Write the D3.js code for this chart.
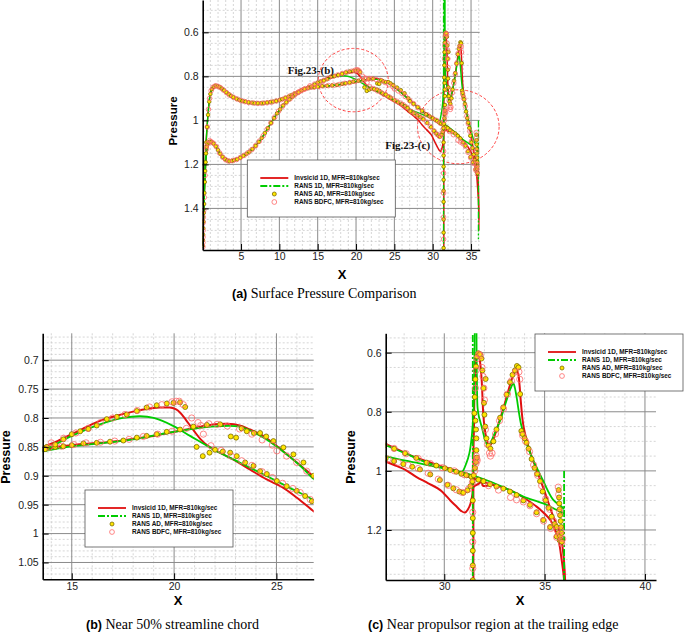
<!DOCTYPE html>
<html><head><meta charset="utf-8">
<script src="https://cdn.jsdelivr.net/npm/d3@7"></script>
<style>
body{margin:0;background:#fff}
svg{display:block}
text{font-family:Arial,"Liberation Sans",Helvetica,sans-serif}
</style>
</head><body>
<svg id="chart" width="685" height="633"></svg>
<script>
// ---------------- DATA ----------------
const seriesNames = ["Invsicid 1D, MFR=810kg/sec","RANS 1D, MFR=810kg/sec","RANS AD, MFR=810kg/sec","RANS BDFC, MFR=810kg/sec"];

const xTicksA=[5,10,15,20,25,30,35], yTicksA=[0.6,0.8,1.0,1.2,1.4];
const xTicksB=[15,20,25], yTicksB=[0.7,0.75,0.8,0.85,0.9,0.95,1.0,1.05];
const xTicksC=[30,35,40], yTicksC=[0.6,0.8,1.0,1.2];

// Invsicid 1D (red)
const inviscidUpper=[[0.02,1.57],[0.1,1.45],[0.2,1.33],[0.3,1.22],[0.4,1.13],[0.55,1.04],[0.7,0.97],[0.9,0.9],[1.1,0.866],[1.4,0.849],[1.8,0.843],[2.2,0.848],[2.6,0.858],[3.0,0.87],[3.5,0.884],[4.0,0.896],[4.5,0.904],[5.5,0.915],[6.5,0.921],[7.5,0.922],[8.5,0.919],[9.5,0.913],[10.5,0.902],[11.5,0.887],[12.5,0.87],[13.58,0.855],[15,0.847],[16.4,0.843],[17.3,0.84],[18,0.836],[19,0.831],[20,0.824],[21.3,0.815],[22,0.811],[22.6,0.81],[23.2,0.813],[23.7,0.82],[24.2,0.828],[24.7,0.84],[25.2,0.854],[26,0.877],[26.8,0.901],[27.5,0.922],[28.2,0.944],[29.0,0.965],[29.8,0.983],[30.5,0.998],[31.0,1.015],[31.4,1.025],[32.3,1.045],[33,1.058],[33.6,1.076],[34.1,1.097],[34.6,1.121],[35.0,1.145],[35.3,1.168],[35.55,1.205],[35.7,1.236],[35.85,1.302],[35.97,1.37],[36.02,1.45]];
const inviscidLower=[[0.02,1.57],[0.1,1.46],[0.2,1.35],[0.3,1.26],[0.45,1.17],[0.6,1.125],[0.8,1.103],[1.0,1.097],[1.3,1.1],[1.7,1.118],[2.25,1.15],[2.8,1.172],[3.35,1.184],[4.2,1.18],[5.0,1.168],[6.0,1.145],[7.0,1.112],[7.8,1.075],[8.5,1.035],[9.2,0.995],[9.9,0.958],[10.6,0.928],[11.5,0.9],[12.3,0.878],[13.0,0.862],[13.58,0.851],[14.3,0.84],[15,0.828],[15.7,0.816],[16.38,0.805],[17.2,0.796],[18,0.789],[18.7,0.784],[19.3,0.782],[19.8,0.782],[20.1,0.785],[20.3,0.791],[20.55,0.802],[20.8,0.814],[21.05,0.826],[21.3,0.837],[21.6,0.847],[21.9,0.854],[22.4,0.863],[22.9,0.872],[23.7,0.889],[24.5,0.906],[25.3,0.92],[26.0,0.938],[26.8,0.961],[27.5,0.98],[28.1,0.998],[28.6,1.02],[29.2,1.042],[29.8,1.065],[30.3,1.1],[30.6,1.12],[30.85,1.136],[31.03,1.141],[31.18,1.13],[31.3,1.112],[31.4,1.08],[31.45,1.055],[31.7,1.044],[31.86,1.037],[31.92,1.05],[32.3,1.048]];
const inviscidDuct=[[31.45,1.62],[31.45,1.2],[31.45,0.95],[31.48,0.85],[31.5,0.75],[31.55,0.66],[31.6,0.62],[31.7,0.602],[31.78,0.63],[31.86,0.69],[31.94,0.805],[32.0,0.85],[32.08,0.884],[32.2,0.912],[32.3,0.912],[32.45,0.893],[32.6,0.862],[32.94,0.79],[33.27,0.71],[33.45,0.675],[33.6,0.66],[33.68,0.67],[33.75,0.71],[33.82,0.77],[33.95,0.85],[34.25,0.93],[34.6,0.997],[35.0,1.07],[35.43,1.155],[35.77,1.211],[35.93,1.279],[36.02,1.37],[36.05,1.5]];

// RANS 1D (green)
const rans1dUpper=[[0.02,1.57],[0.1,1.45],[0.2,1.33],[0.3,1.22],[0.4,1.13],[0.55,1.04],[0.7,0.97],[0.9,0.9],[1.1,0.866],[1.4,0.849],[1.8,0.843],[2.2,0.848],[2.6,0.858],[3.0,0.87],[3.5,0.884],[4.0,0.896],[4.5,0.904],[5.5,0.915],[6.5,0.921],[7.5,0.922],[8.5,0.919],[9.5,0.913],[10.5,0.902],[11.5,0.887],[12.5,0.871],[13.58,0.858],[15,0.849],[16.38,0.844],[18,0.837],[19.64,0.826],[21.27,0.817],[22.25,0.814],[23.2,0.815],[23.9,0.825],[24.5,0.837],[25.5,0.863],[26.2,0.884],[26.8,0.905],[27.08,0.913],[28.04,0.94],[29.12,0.972],[30.03,0.991],[30.6,1.003],[30.85,1.006],[31.1,0.974],[31.25,0.94],[31.35,0.895],[31.45,0.805],[31.5,0.635],[31.53,0.45]];
const rans1dLower=[[0.02,1.57],[0.1,1.46],[0.2,1.35],[0.3,1.26],[0.45,1.17],[0.6,1.125],[0.8,1.103],[1.0,1.097],[1.3,1.1],[1.7,1.118],[2.25,1.15],[2.8,1.172],[3.35,1.184],[4.2,1.18],[5.0,1.168],[6.0,1.145],[7.0,1.112],[7.8,1.075],[8.5,1.035],[9.2,0.995],[9.9,0.958],[10.6,0.928],[11.5,0.9],[12.3,0.879],[13.0,0.864],[13.58,0.857],[15,0.831],[16.38,0.811],[17.5,0.8],[18.34,0.797],[19.0,0.8],[19.97,0.814],[20.78,0.831],[21.9,0.854],[23.2,0.877],[24.5,0.9],[25.6,0.92],[26.8,0.942],[27.08,0.95],[28.7,0.974],[30.37,0.997],[31.4,1.015],[32.28,1.036],[33.1,1.06],[33.94,1.087],[34.93,1.11],[35.6,1.132],[35.85,1.14],[35.97,1.143]];
const rans1dDuct=[[31.6,0.45],[31.61,0.6],[31.63,0.72],[31.66,0.788],[31.72,0.815],[31.8,0.835],[31.9,0.86],[32.03,0.895],[32.2,0.918],[32.44,0.884],[32.78,0.83],[33.1,0.762],[33.3,0.722],[33.44,0.704],[33.52,0.72],[33.6,0.749],[33.85,0.85],[34.28,0.94],[34.9,1.03],[35.43,1.098],[35.85,1.121],[35.97,1.13]];
const rans1dDuctLE=[[31.42,1.62],[31.42,0.45]];
const rans1dDuctTE=[[35.97,1.0],[35.97,1.54]];

// RANS AD (yellow markers)
const ransAD=[[0.02,1.57],[0.03,1.545],[0.05,1.52],[0.07,1.49],[0.1,1.46],[0.14,1.42],[0.18,1.38],[0.22,1.33],[0.27,1.28],[0.32,1.23],[0.38,1.19],
[0.47,1.1],[0.58,1.03],[0.7,0.975],[0.85,0.915],[1.0,0.88],[1.2,0.858],[1.45,0.848],[1.7,0.843],[1.95,0.845],[2.2,0.849],[2.5,0.856],[2.8,0.864],[3.1,0.873],[3.4,0.881],[3.7,0.889],[4.0,0.895],[4.4,0.902],[4.8,0.907],[5.2,0.912],[5.6,0.915],[6.0,0.918],[6.4,0.92],[6.8,0.922],[7.2,0.922],[7.6,0.922],[8.0,0.921],[8.4,0.919],[8.8,0.917],[9.2,0.915],[9.6,0.912],[10.0,0.908],[10.4,0.903],[10.8,0.898],[11.2,0.892],[11.6,0.885],[12.0,0.878],[12.4,0.872],[12.8,0.865],[13.2,0.858],
[13.78,0.85],[14.19,0.85],[14.59,0.849],[15.0,0.847],[15.57,0.844],[16.22,0.843],[16.87,0.841],[17.52,0.839],[18.18,0.834],[18.66,0.831],[19.15,0.828],[19.64,0.824],[20.29,0.82],[20.94,0.815],[21.6,0.812],[22.25,0.811],[22.77,0.832],[23.03,0.834],[23.3,0.818],[23.55,0.823],[23.9,0.826],[24.2,0.826],[24.5,0.832],[24.85,0.84],[25.34,0.851],[25.83,0.863],[26.32,0.877],[26.81,0.9],
[27.04,0.913],[27.5,0.925],[28.04,0.94],[28.6,0.956],[29.12,0.972],[29.6,0.982],[30.03,0.991],[30.3,0.997],[30.6,1.003],[30.85,1.01],[31.1,1.015],[31.35,1.02],[31.7,1.03],
[31.95,1.035],[32.28,1.045],[32.6,1.053],[32.94,1.06],[33.27,1.07],[33.6,1.082],[33.94,1.1],[34.27,1.115],[34.6,1.14],[34.93,1.166],[35.27,1.19],[35.6,1.222],[35.75,1.235],
[0.42,1.15],[0.52,1.12],[0.65,1.105],[0.8,1.1],[0.95,1.097],[1.15,1.098],[1.4,1.105],[1.7,1.118],[2.0,1.135],[2.3,1.152],[2.6,1.166],[2.9,1.176],[3.2,1.182],[3.5,1.185],[3.8,1.184],[4.1,1.181],[4.5,1.177],[4.9,1.17],[5.3,1.161],[5.7,1.152],[6.1,1.142],[6.5,1.13],[6.9,1.116],[7.3,1.098],[7.7,1.08],[8.1,1.058],[8.5,1.035],[8.9,1.012],[9.3,0.99],[9.7,0.968],[10.1,0.95],[10.5,0.932],[10.9,0.918],[11.3,0.905],[11.7,0.893],[12.1,0.882],[12.5,0.873],[12.9,0.864],[13.3,0.857],
[13.7,0.854],[14.19,0.846],[14.59,0.837],[15.0,0.828],[15.41,0.823],[15.81,0.819],[16.22,0.813],[16.71,0.802],[17.2,0.798],[17.69,0.794],[18.18,0.788],[18.66,0.782],[19.15,0.778],[19.64,0.775],[19.97,0.774],[20.29,0.773],[20.54,0.781],[21.1,0.85],[21.4,0.866],[21.73,0.86],[22.0,0.855],[22.38,0.858],[22.74,0.86],[23.06,0.866],[23.47,0.877],[23.88,0.883],[24.2,0.892],[24.53,0.897],[25.02,0.909],[25.5,0.918],[25.99,0.926],[26.4,0.935],[26.73,0.944],
[27.08,0.958],[27.5,0.967],[27.96,0.977],[28.4,0.986],[28.79,0.995],[29.3,1.012],[29.78,1.031],[30.15,1.047],[30.45,1.059],[30.75,1.07],[30.95,1.074],[31.15,1.066],[31.3,1.052],[31.4,1.035],[31.47,1.015],[31.53,0.99],[31.58,0.97],[31.62,0.955],
[31.42,1.1],[31.42,1.16],[31.42,1.21],[31.42,1.27],[31.42,1.32],[31.42,1.37],[31.42,1.45],[31.42,1.51],[31.42,1.58],
[31.6,0.93],[31.6,0.89],[31.58,0.86],[31.55,0.83],[31.5,0.805],[31.52,0.75],[31.55,0.69],[31.58,0.647],[31.63,0.613],[31.7,0.602],[31.78,0.605],[31.85,0.62],[31.9,0.66],[31.95,0.72],[31.98,0.77],[32.0,0.81],[32.04,0.85],[32.1,0.89],[32.2,0.915],[32.3,0.925],[32.45,0.9],[32.6,0.86],[32.78,0.82],[32.94,0.785],[33.1,0.742],[33.27,0.7],[33.4,0.675],[33.52,0.66],[33.62,0.645],[33.7,0.65],[33.78,0.74],[33.84,0.865],[33.9,0.875],[34.0,0.89],[34.1,0.905],[34.2,0.925],[34.35,0.96],[34.5,0.99],[34.62,1.01],[34.77,1.035],[34.9,1.07],[35.05,1.1],[35.19,1.125],[35.35,1.155],[35.5,1.18],[35.6,1.19],[35.7,1.21],[35.77,1.22],[35.82,1.235],[35.86,1.24],
[35.7,1.065],[35.72,1.09],[35.73,1.11],[35.75,1.13],[35.77,1.15],[35.8,1.17],[35.82,1.19],[35.85,1.21],[32.06,0.689]];

// RANS BDFC (red open circles)
const ransBDFC=[[0.02,1.575],[0.03,1.555],[0.04,1.53],[0.05,1.5],[0.06,1.465],[0.08,1.44],[0.12,1.41],[0.2,1.35],[0.3,1.25],
[0.45,1.12],[0.6,1.03],[0.75,0.95],[0.9,0.9],[1.1,0.865],[1.35,0.849],[1.65,0.843],[1.95,0.845],[2.3,0.851],[2.7,0.862],[3.1,0.874],[3.5,0.885],[4.0,0.895],[4.5,0.903],[5.0,0.91],[5.5,0.915],[6.0,0.919],[6.6,0.921],[7.2,0.923],[7.8,0.922],[8.4,0.92],[9.0,0.917],[9.6,0.912],[10.2,0.906],[10.8,0.898],[11.4,0.889],[12.0,0.879],[12.6,0.869],[13.2,0.859],
[13.9,0.851],[14.5,0.849],[15.1,0.846],[15.7,0.843],[16.4,0.842],[17.1,0.84],[17.8,0.837],[18.5,0.832],[19.2,0.828],[19.9,0.823],[20.6,0.818],[21.3,0.813],[21.7,0.81],[22.1,0.811],[22.6,0.814],[23.2,0.819],[23.8,0.828],[24.3,0.838],[24.8,0.847],[25.02,0.857],[25.5,0.866],[25.99,0.877],[26.48,0.892],[27.0,0.91],
[27.5,0.924],[28.1,0.942],[28.7,0.958],[29.3,0.975],[29.9,0.989],[30.5,1.0],[31.0,1.013],
[32.2,1.05],[32.7,1.065],[33.3,1.09],[33.6,1.098],[33.94,1.105],[34.27,1.118],[34.6,1.145],[34.95,1.17],[35.3,1.195],[35.6,1.225],
[0.5,1.13],[0.7,1.105],[0.9,1.092],[1.1,1.097],[1.4,1.104],[1.8,1.12],[2.2,1.148],[2.6,1.167],[3.0,1.179],[3.4,1.185],[3.9,1.183],[4.4,1.178],[4.9,1.169],[5.4,1.159],[5.9,1.147],[6.4,1.133],[6.9,1.115],[7.4,1.094],[7.9,1.07],[8.4,1.041],[8.9,1.011],[9.4,0.985],[9.9,0.958],[10.4,0.936],[10.9,0.917],[11.4,0.902],[11.9,0.887],[12.4,0.874],[12.9,0.864],[13.4,0.856],
[14.0,0.843],[14.6,0.835],[15.2,0.826],[15.8,0.818],[16.4,0.808],[17.0,0.8],[17.6,0.794],[18.2,0.787],[18.8,0.781],[19.4,0.777],[19.9,0.772],[20.1,0.771],[20.25,0.771],[20.45,0.777],[20.86,0.8],[21.17,0.808],[21.43,0.828],[21.8,0.848],[22.3,0.856],[22.8,0.866],[23.3,0.874],[23.8,0.882],[24.3,0.893],[24.8,0.903],[25.3,0.913],[25.8,0.922],[26.16,0.929],[26.65,0.941],
[27.2,0.96],[27.7,0.971],[28.2,0.981],[28.7,0.992],[29.2,1.008],[29.7,1.028],[30.2,1.049],[30.6,1.064],[30.9,1.073],[31.2,1.062],[31.4,1.04],[31.52,1.0],[31.58,0.975],[31.62,0.96],[31.64,0.965],[31.6,0.95],
[31.42,1.14],[31.42,1.24],[31.42,1.33],[31.42,1.44],[31.42,1.54],
[31.55,0.72],[31.58,0.66],[31.63,0.62],[31.72,0.605],[31.8,0.61],[31.88,0.65],[31.93,0.68],[31.97,0.72],[32.0,0.76],[32.05,0.86],[32.15,0.91],[32.25,0.94],[32.3,0.95],[32.38,0.94],[32.55,0.875],[32.75,0.83],[32.95,0.79],[33.15,0.74],[33.35,0.695],[33.55,0.665],[33.72,0.665],[33.76,0.69],[33.9,0.88],[34.05,0.9],[34.25,0.935],[34.45,0.98],[34.65,1.015],[34.85,1.05],[35.05,1.095],[35.25,1.13],[35.45,1.17],[35.62,1.2],[35.75,1.22],[35.85,1.245],[35.9,1.23],
[35.68,1.055],[35.7,1.08],[35.75,1.14],[35.8,1.2]];

// Zoom-region annotations on panel (a): centre X, centre P, half-width (X), half-height (P)
const zoomMarks=[{label:"Fig.23-(b)",cx:19.64,cp:0.817,rx:4.56,rp:0.144,tx:11.1,tp:0.79},
                 {label:"Fig.23-(c)",cx:33.34,cp:1.029,rx:5.32,rp:0.168,tx:23.8,tp:1.13}];

// ---------------- DRAW ----------------
const svg=d3.select("#chart");
const RED="#e01010", GREEN="#00cc00", YEL="#ffe600", YELS="#7a6a00", CIRC="#ff6a6a";

const panels=[
 {key:"a",l:202.7,r:479.7,t:0,b:250,xd:[0,36.13],yd:[0.453,1.589],xt:xTicksA,yt:yTicksA,
  xm:d3.range(1,37),ym:d3.range(10,32).map(v=>v*0.05),lw:1.5,gw:1.4,mr:1.8,cr:2.3,
  ylab:{x:173,y:121,fs:11.5},xlab:{x:342,y:279},cap:{x:232,y:298,l:"(a)",t:" Surface Pressure Comparison"},leg:{x:247.3,y:160}},
 {key:"b",l:42.7,r:313.7,t:333.3,b:579.3,xd:[13.58,26.82],yd:[0.6535,1.0791],xt:xTicksB,yt:yTicksB,
  xm:d3.range(14,27),ym:d3.range(66,108).map(v=>v/100),lw:2,gw:1.8,mr:2.5,cr:3.1,
  ylab:{x:6,y:457,fs:12.5},xlab:{x:178,y:605},cap:{x:86,y:629,l:"(b)",t:" Near 50% streamline chord"},leg:{x:85,y:490}},
 {key:"c",l:385.7,r:656,t:333.3,b:580,xd:[27.08,40.55],yd:[0.5344,1.3693],xt:xTicksC,yt:yTicksC,
  xm:d3.range(28,41),ym:d3.range(11,28).map(v=>v*0.05),lw:2,gw:1.8,mr:2.5,cr:3.1,
  ylab:{x:351,y:457,fs:12.5},xlab:{x:520,y:605},cap:{x:368,y:629,l:"(c)",t:" Near propulsor region at the trailing edge"},leg:{x:535,y:334}}
];

panels.forEach(p=>{
  const x=d3.scaleLinear().domain(p.xd).range([p.l,p.r]);
  const y=d3.scaleLinear().domain(p.yd).range([p.t,p.b]);
  const g=svg.append("g");
  const cid="clip"+p.key;
  svg.append("clipPath").attr("id",cid).append("rect").attr("x",p.l).attr("y",p.t).attr("width",p.r-p.l).attr("height",p.b-p.t);

  const grid=g.append("g");
  grid.selectAll(".mx").data(p.xm.filter(v=>!p.xt.includes(v))).enter().append("line")
    .attr("x1",d=>x(d)).attr("x2",d=>x(d)).attr("y1",p.t).attr("y2",p.b)
    .attr("stroke","#c4c4c4").attr("stroke-width",0.7).attr("stroke-dasharray","2,2");
  grid.selectAll(".my").data(p.ym.filter(v=>!p.yt.some(t=>Math.abs(t-v)<1e-6))).enter().append("line")
    .attr("y1",d=>y(d)).attr("y2",d=>y(d)).attr("x1",p.l).attr("x2",p.r)
    .attr("stroke","#c4c4c4").attr("stroke-width",0.7).attr("stroke-dasharray","2,2");
  grid.selectAll(".Mx").data(p.xt).enter().append("line")
    .attr("x1",d=>x(d)).attr("x2",d=>x(d)).attr("y1",p.t).attr("y2",p.b)
    .attr("stroke","#8a8a8a").attr("stroke-width",1);
  grid.selectAll(".My").data(p.yt).enter().append("line")
    .attr("y1",d=>y(d)).attr("y2",d=>y(d)).attr("x1",p.l).attr("x2",p.r)
    .attr("stroke","#8a8a8a").attr("stroke-width",1);

  if(p.key==="a"){
    zoomMarks.forEach(z=>{
      g.append("ellipse").attr("cx",x(z.cx)).attr("cy",y(z.cp))
        .attr("rx",x(z.cx+z.rx)-x(z.cx)).attr("ry",y(z.cp+z.rp)-y(z.cp))
        .attr("fill","none").attr("stroke","#ff3030").attr("stroke-width",0.9).attr("stroke-dasharray","3,2");
    });
  }

  const plot=g.append("g").attr("clip-path",`url(#${cid})`);
  const line=d3.line().x(d=>x(d[0])).y(d=>y(d[1])).curve(d3.curveCatmullRom.alpha(0.5));
  [inviscidUpper,inviscidLower,inviscidDuct].forEach(s=>{
    plot.append("path").attr("d",line(s)).attr("fill","none").attr("stroke",RED).attr("stroke-width",p.lw).attr("stroke-linejoin","round");
  });
  [rans1dUpper,rans1dLower,rans1dDuct].forEach(s=>{
    plot.append("path").attr("d",line(s)).attr("fill","none").attr("stroke",GREEN).attr("stroke-width",p.gw).attr("stroke-linejoin","round");
  });
  [rans1dDuctLE,rans1dDuctTE].forEach(s=>{
    plot.append("path").attr("d",d3.line().x(d=>x(d[0])).y(d=>y(d[1]))(s)).attr("fill","none").attr("stroke",GREEN).attr("stroke-width",p.gw).attr("stroke-dasharray","7,2,2,2");
  });
  plot.selectAll(".ad").data(ransAD).enter().append("circle")
    .attr("cx",d=>x(d[0])).attr("cy",d=>y(d[1])).attr("r",p.mr)
    .attr("fill",YEL).attr("stroke",YELS).attr("stroke-width",0.8);
  plot.selectAll(".bd").data(ransBDFC).enter().append("circle")
    .attr("cx",d=>x(d[0])).attr("cy",d=>y(d[1])).attr("r",p.cr)
    .attr("fill","none").attr("stroke",CIRC).attr("stroke-width",0.8);

  if(p.key==="a"){
    zoomMarks.forEach(z=>{
      g.append("text").attr("x",x(z.tx)).attr("y",y(z.tp)).text(z.label)
        .style("font-family","'Liberation Serif','Times New Roman',serif").style("font-weight","bold").style("font-size","11px").attr("fill","#111");
    });
  }

  const axB=g.append("g").attr("transform",`translate(0,${p.b})`);
  axB.call(d3.axisBottom(x).tickValues(p.xm).tickSize(-3).tickSizeOuter(0).tickFormat(""));
  axB.call(d3.axisBottom(x).tickValues(p.xt).tickSize(-6).tickSizeOuter(0).tickFormat(d=>String(d)).tickPadding(3));
  const axL=g.append("g").attr("transform",`translate(${p.l},0)`);
  axL.call(d3.axisLeft(y).tickValues(p.ym).tickSize(-3).tickSizeOuter(0).tickFormat(""));
  axL.call(d3.axisLeft(y).tickValues(p.yt).tickSize(-6).tickSizeOuter(0).tickFormat(d=>String(+d.toFixed(2))).tickPadding(4));
  [axB,axL].forEach(a=>{
    a.selectAll(".domain").attr("stroke","#000").attr("stroke-width",1.6);
    a.selectAll(".tick line").attr("stroke","#000").attr("stroke-width",1);
    a.selectAll("text").attr("fill","#222").style("font-size","10.5px").style("font-family","Arial,'Liberation Sans',sans-serif");
  });

  g.append("text").attr("transform",`translate(${p.ylab.x},${p.ylab.y}) rotate(-90)`).attr("text-anchor","middle").attr("dy","0.35em")
    .style("font-weight","bold").style("font-size",p.ylab.fs+"px").text("Pressure");
  g.append("text").attr("x",p.xlab.x).attr("y",p.xlab.y).attr("text-anchor","middle")
    .style("font-weight","bold").style("font-size","13px").text("X");
  const cap=g.append("text").attr("x",p.cap.x).attr("y",p.cap.y);
  cap.append("tspan").style("font-weight","bold").style("font-size","12.5px").text(p.cap.l);
  cap.append("tspan").style("font-family","'Liberation Serif','Times New Roman',serif").style("font-size","14px").text(p.cap.t);

  const L=g.append("g").attr("transform",`translate(${p.leg.x},${p.leg.y})`);
  L.append("rect").attr("width",148).attr("height",57).attr("fill","#fff").attr("stroke","#555").attr("stroke-width",0.8);
  seriesNames.forEach((n,i)=>{
    const yy=18+i*8;
    if(i===0) L.append("line").attr("x1",13).attr("x2",41).attr("y1",yy).attr("y2",yy).attr("stroke",RED).attr("stroke-width",1.8);
    if(i===1) L.append("line").attr("x1",13).attr("x2",41).attr("y1",yy).attr("y2",yy).attr("stroke",GREEN).attr("stroke-width",1.8).attr("stroke-dasharray","7,2,2,2");
    if(i===2) L.append("circle").attr("cx",27).attr("cy",yy).attr("r",2).attr("fill",YEL).attr("stroke",YELS).attr("stroke-width",0.8);
    if(i===3) L.append("circle").attr("cx",27).attr("cy",yy).attr("r",2.4).attr("fill","none").attr("stroke",CIRC).attr("stroke-width",0.8);
    L.append("text").attr("x",47).attr("y",yy).attr("dy","0.35em").style("font-weight","bold").style("font-size","6.4px").attr("fill","#111").text(n);
  });
});
</script>
</body></html>
